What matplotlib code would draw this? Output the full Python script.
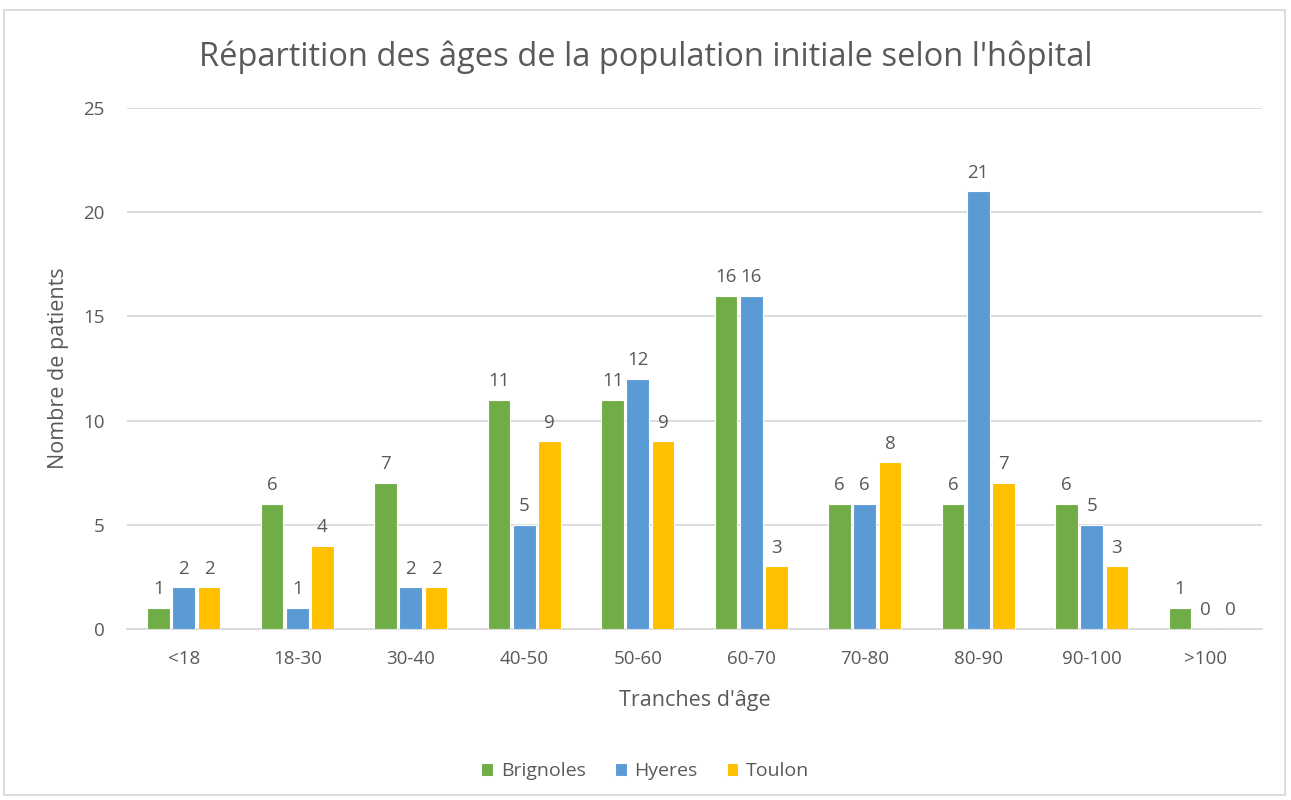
import matplotlib
matplotlib.use("Agg")
from matplotlib import pyplot as plt
from matplotlib.patches import Rectangle
import numpy as np

plt.rcParams['font.family'] = ['Open Sans', 'DejaVu Sans']

categories = ['<18', '18-30', '30-40', '40-50', '50-60', '60-70', '70-80', '80-90', '90-100', '>100']
brignoles = [1, 6, 7, 11, 11, 16, 6, 6, 6, 1]
hyeres = [2, 1, 2, 5, 12, 16, 6, 21, 5, 0]
toulon = [2, 4, 2, 9, 9, 3, 8, 7, 3, 0]

series = [('Brignoles', brignoles, '#70AD47'),
          ('Hyeres', hyeres, '#5B9BD5'),
          ('Toulon', toulon, '#FFC000')]

txt = '#595959'
fig = plt.figure(figsize=(12.91, 8), dpi=100)
ax = fig.add_axes([0.0984, 0.21375, 0.8791, 0.65125])

x = np.arange(len(categories))
offsets = [-0.222, 0, 0.222]
for (name, vals, col), off in zip(series, offsets):
    bars = ax.bar(x + off, vals, width=0.2, color=col, edgecolor='white',
                  linewidth=0.8, label=name, zorder=3)
    for b, v in zip(bars, vals):
        ax.annotate(str(v), (b.get_x() + b.get_width() / 2, v),
                    xytext=(0, 7), textcoords='offset points',
                    ha='center', va='bottom', fontsize=13.5, color=txt)

ax.set_xlim(-0.5, len(categories) - 0.5)
ax.set_ylim(0, 25)
ax.set_yticks([0, 5, 10, 15, 20, 25])
ax.set_xticks(x)
ax.set_xticklabels(categories)
ax.grid(axis='y', color='#D9D9D9', linewidth=1.3, zorder=0)
for s in ['top', 'right', 'left']:
    ax.spines[s].set_visible(False)
ax.spines['bottom'].set_color('#D9D9D9')
ax.spines['bottom'].set_linewidth(1.3)
ax.tick_params(axis='both', length=0, labelsize=13.5, colors=txt)
ax.tick_params(axis='y', pad=16)
ax.tick_params(axis='x', pad=15)

ax.set_xlabel("Tranches d'âge", fontsize=15.5, color=txt, labelpad=16)
ax.set_ylabel('Nombre de patients', fontsize=15.5, color=txt, labelpad=10)
fig.text(0.5, 0.929, "Répartition des âges de la population initiale selon l'hôpital",
         ha='center', va='center', fontsize=23.5, color=txt)

fig.legend(loc='center', bbox_to_anchor=(0.5, 0.036), ncol=3, frameon=False,
           fontsize=14, labelcolor=txt, handlelength=0.6, handleheight=0.6,
           columnspacing=1.5, handletextpad=0.4)

fig.patches.append(Rectangle((0.003, 0.006), 0.992, 0.982, transform=fig.transFigure,
                             fill=False, edgecolor='#D9D9D9', linewidth=1.3))

plt.savefig('out.png', dpi=100)
